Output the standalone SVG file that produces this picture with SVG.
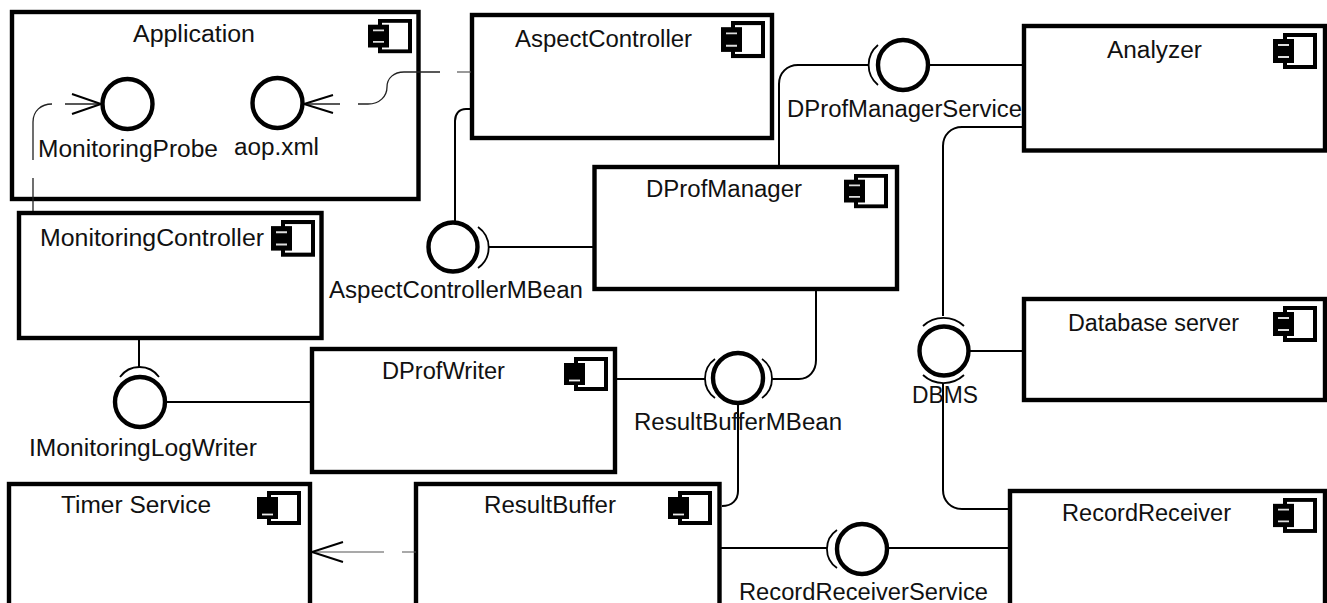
<svg xmlns="http://www.w3.org/2000/svg" width="1327" height="603" viewBox="0 0 1327 603">
<style>
text{font-family:"Liberation Sans",Arial,sans-serif;font-size:23px;fill:#111}
.box{fill:#fff;stroke:#000;stroke-width:4.4}
.lol{fill:#fff;stroke:#000;stroke-width:4.4}
.arc{fill:none;stroke:#000;stroke-width:1.8}
.c{fill:none;stroke:#000;stroke-width:2}
.d{fill:none;stroke:#222;stroke-width:1.3}
.g{fill:none;stroke:#555;stroke-width:1.2}
.h{fill:none;stroke:#000;stroke-width:2}
</style>
<defs>
<g id="icon">
<rect x="12" y="2" width="30" height="32" fill="#fff" stroke="#000" stroke-width="4"/>
<rect x="0" y="6" width="21" height="24" fill="#000"/>
<path d="M5 12H16M5 24H16" stroke="#ddd" stroke-width="1.8"/>
</g>
<g id="icon2">
<rect x="12" y="2" width="30" height="30" fill="#fff" stroke="#000" stroke-width="4"/>
<rect x="0" y="6" width="21" height="22" fill="#000"/>
<path d="M5 23.500H16" stroke="#eee" stroke-width="1.800"/>
</g>
</defs>

<g id="node-application">
<rect class="box" x="12" y="12" width="406.500" height="187"/>
<use href="#icon" transform="translate(368 19) scale(1 .95)"/>
<text x="133" y="41.500" textLength="122" lengthAdjust="spacingAndGlyphs">Application</text>
</g>
<g id="node-aspectcontroller">
<rect class="box" x="472" y="15" width="300" height="123"/>
<use href="#icon" transform="translate(721 21) scale(1 1.030)"/>
<text x="515" y="47" textLength="177" lengthAdjust="spacingAndGlyphs">AspectController</text>
</g>
<g id="node-analyzer">
<rect class="box" x="1024" y="26" width="301" height="124.500"/>
<use href="#icon" transform="translate(1273 33)"/>
<text x="1107" y="58" textLength="95" lengthAdjust="spacingAndGlyphs">Analyzer</text>
</g>
<g id="node-dprofmanager">
<rect class="box" x="594.500" y="167" width="302.500" height="122"/>
<use href="#icon" transform="translate(844 174) scale(1 .95)"/>
<text x="646" y="197" textLength="156" lengthAdjust="spacingAndGlyphs">DProfManager</text>
</g>
<g id="node-monitoringcontroller">
<rect class="box" x="19" y="213" width="302.500" height="125"/>
<use href="#icon" transform="translate(271 220) scale(1 1.020)"/>
<text x="40" y="246" textLength="224" lengthAdjust="spacingAndGlyphs">MonitoringController</text>
</g>
<g id="node-dprofwriter">
<rect class="box" x="312" y="349" width="303" height="123"/>
<use href="#icon2" transform="translate(564 357)"/>
<text x="382" y="379" textLength="123" lengthAdjust="spacingAndGlyphs">DProfWriter</text>
</g>
<g id="node-database">
<rect class="box" x="1024" y="299" width="301" height="101"/>
<use href="#icon" transform="translate(1273 306)"/>
<text x="1068" y="331" textLength="171" lengthAdjust="spacingAndGlyphs">Database server</text>
</g>
<g id="node-timer">
<rect class="box" x="9" y="484" width="301" height="140"/>
<use href="#icon2" transform="translate(257 491)"/>
<text x="61" y="513" textLength="150" lengthAdjust="spacingAndGlyphs">Timer Service</text>
</g>
<g id="node-resultbuffer">
<rect class="box" x="416" y="484" width="303.500" height="140"/>
<use href="#icon2" transform="translate(668 491)"/>
<text x="484" y="513" textLength="132" lengthAdjust="spacingAndGlyphs">ResultBuffer</text>
</g>
<g id="node-recordreceiver">
<rect class="box" x="1010" y="491" width="315" height="140"/>
<use href="#icon" transform="translate(1273 498) scale(1 .97)"/>
<text x="1062" y="521" textLength="169" lengthAdjust="spacingAndGlyphs">RecordReceiver</text>
</g>

<g id="connectors">
<path class="d" d="M33 211V178M33 160V122C33 111 41 104 52 104M65 104H101"/>
<path class="h" d="M72 94L101 104L72 114"/>
<path class="d" d="M304 104H340M358 104H368C380 104 387 96 387 87C387 78 394 72 404 72H440"/>
<path class="g" d="M457 72H471"/>
<path class="h" d="M333 95L304 104L333 113"/>
<path class="c" d="M471 109H466C459 109 455 114 455 121V222"/>
<path class="c" d="M488 247H594"/>
<path class="c" d="M779 167V84C779 73 787 65 798 65H869M929 65H1024"/>
<path class="c" d="M1024 127H962C951 127 943 135 943 146V316"/>
<path class="c" d="M970 351H1024"/>
<path class="c" d="M943 383V490C943 501 951 509 962 509H1010"/>
<path class="c" d="M615 379H705M772 379H799C809 379 816 371 816 360V289"/>
<path class="c" d="M738 404V491C738 500 732 506 722 506"/>
<path class="c" d="M720 548H827M888 548H1010"/>
<path class="c" d="M139 338V367M166 402H312"/>
<path class="g" d="M312 552H384M402 552H416"/>
<path class="h" d="M343 542L312 552L343 562"/>
</g>

<g id="iface-monitoringprobe">
<circle class="lol" cx="127.500" cy="104" r="25"/>
<text x="38" y="157" textLength="180" lengthAdjust="spacingAndGlyphs">MonitoringProbe</text>
</g>
<g id="iface-aop">
<circle class="lol" cx="277.500" cy="103" r="25"/>
<text x="234" y="155" textLength="85" lengthAdjust="spacingAndGlyphs">aop.xml</text>
</g>
<g id="iface-aspectcontrollermbean">
<circle class="lol" cx="453" cy="247" r="24.500"/>
<path class="arc" d="M478 227A25 25 0 0 1 478 268"/>
<text x="329" y="298" textLength="254" lengthAdjust="spacingAndGlyphs">AspectControllerMBean</text>
</g>
<g id="iface-dprofmanagerservice">
<circle class="lol" cx="903" cy="65" r="25"/>
<path class="arc" d="M878 45A26 26 0 0 0 878 85"/>
<text x="787" y="117" textLength="235" lengthAdjust="spacingAndGlyphs">DProfManagerService</text>
</g>
<g id="iface-dbms">
<circle class="lol" cx="944" cy="351" r="24.500"/>
<path class="arc" d="M923 326A30 30 0 0 1 964 326"/>
<path class="arc" d="M923 375A30 30 0 0 0 964 375"/>
<text x="912" y="403" textLength="66" lengthAdjust="spacingAndGlyphs">DBMS</text>
</g>
<g id="iface-resultbuffermbean">
<circle class="lol" cx="738" cy="378" r="25"/>
<path class="arc" d="M715 359A24 24 0 0 0 715 398"/>
<path class="arc" d="M762 359A24 24 0 0 1 762 398"/>
<text x="634" y="430" textLength="208" lengthAdjust="spacingAndGlyphs">ResultBufferMBean</text>
</g>
<g id="iface-recordreceiverservice">
<circle class="lol" cx="862" cy="549" r="25"/>
<path class="arc" d="M837 530A23 23 0 0 0 837 568"/>
<text x="739" y="600" textLength="249" lengthAdjust="spacingAndGlyphs">RecordReceiverService</text>
</g>
<g id="iface-imonitoringlogwriter">
<circle class="lol" cx="140" cy="402" r="25"/>
<path class="arc" d="M120 377A24 24 0 0 1 159 377"/>
<text x="29" y="456" textLength="228" lengthAdjust="spacingAndGlyphs">IMonitoringLogWriter</text>
</g>
</svg>
